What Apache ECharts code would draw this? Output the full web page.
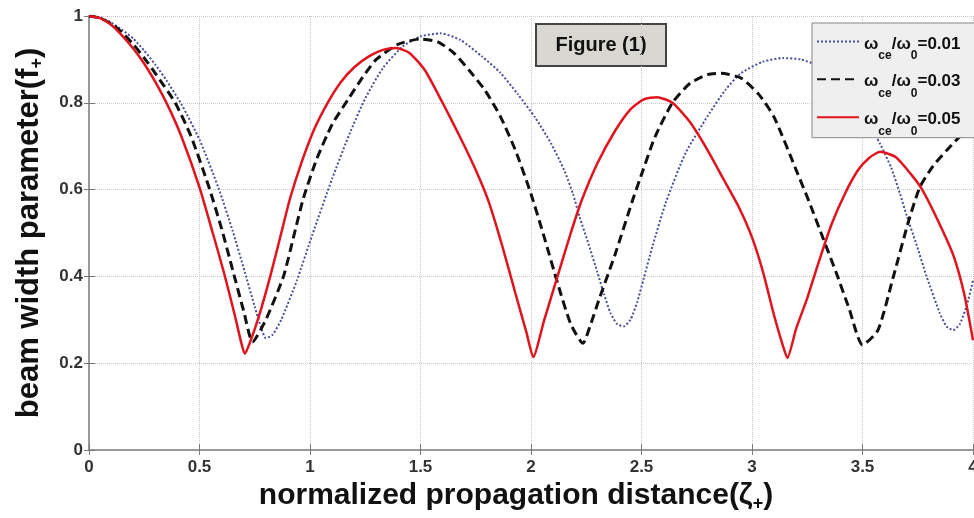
<!DOCTYPE html>
<html>
<head>
<meta charset="utf-8">
<script src="https://cdn.jsdelivr.net/npm/echarts@6/dist/echarts.min.js"></script>
<style>
html,body{margin:0;padding:0;background:#fff;}
#c{width:974px;height:518px;}
</style>
</head>
<body>
<div id="c"></div>
<script>
// ---- data ----
var xTicks = ['0','0.5','1','1.5','2','2.5','3','3.5','4'];
var yTicks = ['0','0.2','0.4','0.6','0.8','1'];
var seriesNames = ['0.01','0.03','0.05'];

var blueX = [0,0.05,0.1,0.15,0.2,0.25,0.3,0.35,0.42,0.5,0.585,0.65,0.705,0.75,0.78,0.8,0.83,0.87,0.94,1.01,1.1,1.18,1.25,1.33,1.42,1.5,1.59,1.68,1.78,1.86,1.94,2.02,2.09,2.15,2.19,2.22,2.26,2.3,2.33,2.36,2.39,2.42,2.45,2.48,2.51,2.55,2.61,2.7,2.8,2.88,2.95,3.05,3.14,3.22,3.3,3.38,3.46,3.53,3.58,3.63,3.67,3.7,3.74,3.79,3.85,3.88,3.91,3.94,3.97,4.0];
var blueY = [1,0.997,0.985,0.968,0.948,0.92,0.888,0.852,0.795,0.715,0.605,0.505,0.41,0.33,0.28,0.258,0.265,0.3,0.39,0.495,0.625,0.73,0.81,0.88,0.93,0.953,0.96,0.945,0.906,0.87,0.82,0.765,0.707,0.645,0.59,0.537,0.475,0.41,0.36,0.315,0.29,0.285,0.3,0.34,0.395,0.47,0.57,0.685,0.77,0.83,0.868,0.895,0.903,0.9,0.885,0.85,0.8,0.75,0.705,0.65,0.59,0.54,0.48,0.4,0.315,0.285,0.276,0.29,0.33,0.39];

var blackX = [0,0.05,0.1,0.15,0.2,0.25,0.3,0.39,0.46,0.54,0.6,0.65,0.7,0.74,0.8,0.88,0.93,0.97,1.03,1.1,1.17,1.24,1.3,1.4,1.5,1.58,1.65,1.72,1.79,1.86,1.93,2.0,2.06,2.12,2.18,2.235,2.27,2.31,2.38,2.46,2.49,2.56,2.64,2.72,2.8,2.86,2.95,3.03,3.1,3.2,3.26,3.32,3.38,3.44,3.5,3.57,3.64,3.71,3.76,3.82,3.88,3.93,4.0];
var blackY = [1,0.995,0.982,0.962,0.935,0.903,0.868,0.8,0.725,0.61,0.51,0.415,0.32,0.249,0.3,0.4,0.5,0.58,0.67,0.75,0.806,0.86,0.9,0.935,0.947,0.94,0.915,0.875,0.83,0.77,0.69,0.59,0.49,0.385,0.29,0.246,0.29,0.35,0.45,0.576,0.62,0.72,0.8,0.845,0.865,0.868,0.857,0.82,0.767,0.645,0.57,0.49,0.41,0.325,0.242,0.276,0.4,0.53,0.606,0.655,0.69,0.717,0.75];

var redX = [0,0.05,0.1,0.15,0.2,0.25,0.3,0.36,0.42,0.5,0.56,0.61,0.66,0.69,0.705,0.73,0.77,0.82,0.87,0.91,0.96,1.02,1.08,1.14,1.2,1.27,1.33,1.39,1.45,1.52,1.6,1.68,1.75,1.81,1.87,1.93,1.98,2.01,2.06,2.12,2.18,2.23,2.3,2.38,2.45,2.51,2.57,2.64,2.72,2.8,2.87,2.94,3.0,3.05,3.1,3.14,3.16,3.2,3.25,3.3,3.36,3.42,3.48,3.53,3.58,3.65,3.72,3.77,3.84,3.91,3.96,4.0];
var redY = [1,0.995,0.98,0.955,0.925,0.89,0.848,0.79,0.72,0.605,0.5,0.41,0.31,0.245,0.222,0.25,0.31,0.4,0.5,0.58,0.66,0.74,0.8,0.848,0.882,0.908,0.922,0.926,0.915,0.875,0.8,0.72,0.645,0.57,0.47,0.36,0.27,0.214,0.3,0.4,0.5,0.576,0.66,0.735,0.785,0.808,0.813,0.8,0.755,0.69,0.625,0.56,0.49,0.41,0.31,0.24,0.212,0.28,0.35,0.43,0.52,0.59,0.645,0.673,0.687,0.675,0.635,0.6,0.53,0.45,0.36,0.253];

function pairs(xs, ys){ var out=[]; for (var i=0;i<xs.length;i++) out.push([xs[i], ys[i]]); return out; }

var FONT = '"Liberation Sans", Arial, sans-serif';
var legendRich = {
  m: {fontSize:17, fontWeight:'bold', fontFamily:FONT, color:'#111', height:30, verticalAlign:'top', padding:[7,0,0,0]},
  s: {fontSize:12, fontWeight:'bold', fontFamily:FONT, color:'#111', height:30, verticalAlign:'top', padding:[19,0,0,0]}
};
var axisGray = {color:'#999', width:2};
var gridStyle = {show:true, lineStyle:{color:'#c8c8c8', type:'dotted', width:1}};

var chart = echarts.init(document.getElementById('c'), null, {renderer:'canvas'});
chart.setOption({
  animation:false,
  backgroundColor:'#fff',
  grid:{left:89, right:1, top:16, bottom:68, containLabel:false, outerBoundsMode:'none'},
  xAxis:[{
    type:'value', min:0, max:4, interval:0.5,
    axisLine:{show:true, lineStyle:axisGray},
    axisTick:{show:true, inside:true, length:6, lineStyle:{color:'#777'}},
    splitLine:gridStyle,
    axisLabel:{color:'#333', fontSize:17, fontWeight:'bold', fontFamily:FONT, margin:9,
      formatter:function(v){ var i=Math.round(v/0.5); return xTicks[i]; }},
    name:'normalized propagation distance(ζ{s|+})',
    nameLocation:'middle', nameGap:27,
    nameTextStyle:{color:'#111', fontSize:30, fontWeight:'bold', fontFamily:FONT, padding:[0,30,0,0],
      rich:{s:{fontSize:18, fontWeight:'bold', fontFamily:FONT, color:'#111', padding:[16,0,0,0]}}}
  },{
    type:'value', position:'top', min:0, max:4, interval:0.5,
    axisLine:{show:true, lineStyle:axisGray},
    axisTick:{show:true, inside:true, length:5, lineStyle:{color:'#777'}},
    axisLabel:{show:false}, splitLine:{show:false}
  }],
  yAxis:[{
    type:'value', min:0, max:1, interval:0.2,
    axisLine:{show:true, lineStyle:axisGray},
    axisTick:{show:true, inside:true, length:6, lineStyle:{color:'#777'}},
    splitLine:gridStyle,
    axisLabel:{color:'#333', fontSize:17, fontWeight:'bold', fontFamily:FONT, margin:6,
      formatter:function(v){ var i=Math.round(v/0.2); return yTicks[i]; }},
    name:'beam width parameter(f{s|+})',
    nameLocation:'middle', nameGap:43, nameRotate:90,
    nameTextStyle:{color:'#111', fontSize:31, fontWeight:'bold', fontFamily:FONT,
      rich:{s:{fontSize:18, fontWeight:'bold', fontFamily:FONT, color:'#111', padding:[15,0,0,0]}}}
  },{
    type:'value', position:'right', min:0, max:1, interval:0.2,
    axisLine:{show:true, lineStyle:axisGray},
    axisTick:{show:true, inside:true, length:5, lineStyle:{color:'#777'}},
    axisLabel:{show:false}, splitLine:{show:false}
  }],
  legend:{
    show:true, orient:'vertical', left:812, top:23,
    backgroundColor:'#efefef', borderColor:'#888', borderWidth:1,
    padding:[12,30,0,4], itemGap:11, itemWidth:42, itemHeight:16,
    itemStyle:{color:'transparent', borderColor:'transparent', borderWidth:0, opacity:0},
    data: seriesNames.map(function(n){ return 'ω_ce/ω_0=' + n; }),
    formatter:function(name){ var v=name.split('=')[1]; return '{m|ω}{s|ce}{m|/ω}{s|0}{m|=' + v + '}'; },
    textStyle:{rich:legendRich, padding:[10,0,0,0]}
  },
  graphic:[{
    type:'group', left:535, top:23,
    children:[
      {type:'rect', shape:{x:0,y:0,width:130,height:42}, style:{fill:'#d9d7d1', stroke:'#444', lineWidth:2}},
      {type:'text', style:{x:65, y:21, text:'Figure (1)', textAlign:'center', textVerticalAlign:'middle',
        font:'bold 20px "Liberation Sans", Arial, sans-serif', fill:'#111'}}
    ]
  }],
  series:[
    {name:'ω_ce/ω_0=' + seriesNames[0], type:'line', data:pairs(blueX, blueY), showSymbol:false, symbol:'none', smooth:0.2,
      lineStyle:{color:'#4a4f9a', width:2, type:[2,2]}, itemStyle:{color:'#4a4f9a'}, z:2},
    {name:'ω_ce/ω_0=' + seriesNames[1], type:'line', data:pairs(blackX, blackY), showSymbol:false, symbol:'none', smooth:0.2,
      lineStyle:{color:'#111', width:3, type:[9,5]}, itemStyle:{color:'#111'}, z:3},
    {name:'ω_ce/ω_0=' + seriesNames[2], type:'line', data:pairs(redX, redY), showSymbol:false, symbol:'none', smooth:0.2,
      lineStyle:{color:'#e0141e', width:2.5}, itemStyle:{color:'#e0141e'}, z:4}
  ]
});
</script>
</body>
</html>
